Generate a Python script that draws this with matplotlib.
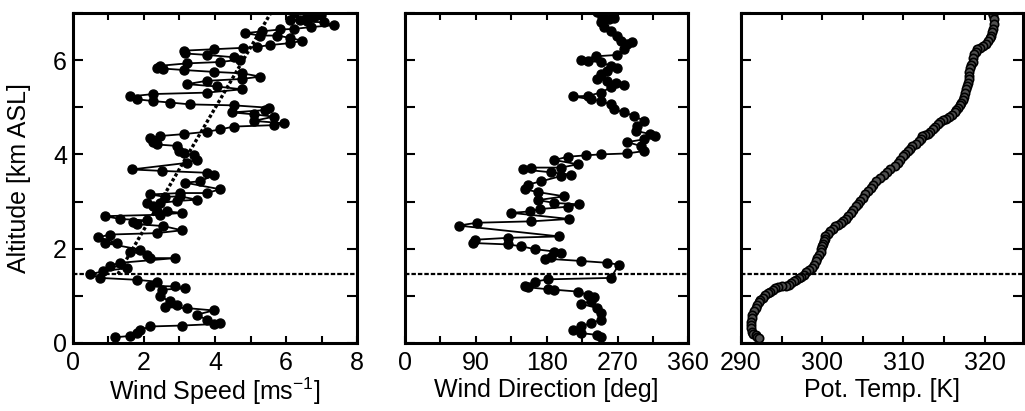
import numpy as np
import matplotlib.pyplot as plt
from matplotlib.ticker import MultipleLocator

plt.rcParams['font.family'] = ['Liberation Sans', 'DejaVu Sans']
plt.rcParams['font.size'] = 18
plt.rcParams['mathtext.fontset'] = 'custom'
plt.rcParams['mathtext.rm'] = 'Liberation Sans'

# wind speed profile
ws_alt = [7.00, 6.98, 6.96, 6.91, 6.86, 6.84, 6.82, 6.80, 6.74, 6.70,
          6.66, 6.65, 6.61, 6.57, 6.52, 6.52, 6.47, 6.41, 6.36, 6.32,
          6.28, 6.26, 6.23, 6.20, 6.14, 6.11, 6.06, 6.01, 5.96, 5.93,
          5.88, 5.84, 5.82, 5.79, 5.75, 5.72, 5.65, 5.60, 5.56, 5.49,
          5.44, 5.38, 5.31, 5.28, 5.23, 5.17, 5.13, 5.10, 5.06, 5.04,
          4.99, 4.94, 4.89, 4.85, 4.80, 4.71, 4.66, 4.62, 4.59, 4.53,
          4.48, 4.43, 4.39, 4.35, 4.26, 4.21, 4.18, 4.07, 4.02, 3.98,
          3.89, 3.82, 3.68, 3.65, 3.61, 3.56, 3.43, 3.40, 3.26, 3.18,
          3.18, 3.15, 3.10, 3.11, 3.04, 3.01, 2.97, 2.96, 2.90, 2.79,
          2.79, 2.76, 2.72, 2.69, 2.63, 2.60, 2.56, 2.52, 2.48, 2.39,
          2.33, 2.30, 2.24, 2.13, 2.12, 1.98, 1.94, 1.87, 1.80, 1.80,
          1.70, 1.64, 1.59, 1.52, 1.46, 1.38, 1.34, 1.30, 1.21, 1.20,
          1.16, 1.13, 0.99, 0.88, 0.81, 0.76, 0.74, 0.69, 0.60, 0.49,
          0.43, 0.40, 0.37, 0.35, 0.28, 0.21, 0.15, 0.12]
ws_spd = [6.22, 6.59, 6.97, 6.78, 6.40, 6.12, 6.59, 7.06, 7.34, 6.69,
          6.22, 5.84, 5.32, 4.85, 5.28, 5.75, 6.12, 6.45, 6.12, 5.56,
          5.18, 4.79, 3.96, 3.12, 3.16, 3.77, 4.53, 4.71, 4.15, 3.21,
          2.46, 2.37, 2.55, 3.12, 3.96, 4.76, 5.28, 4.76, 3.77, 3.21,
          4.06, 4.76, 3.77, 2.27, 1.62, 1.80, 2.27, 2.74, 3.31, 4.53,
          5.51, 5.42, 4.48, 5.09, 5.65, 5.09, 5.95, 5.65, 4.53, 4.15,
          3.77, 3.12, 2.46, 2.18, 2.27, 2.37, 2.93, 2.98, 3.12, 3.40,
          3.49, 3.21, 1.66, 2.51, 3.77, 3.96, 3.59, 3.16, 4.15, 3.77,
          3.02, 2.18, 2.60, 3.02, 3.49, 2.93, 2.46, 2.08, 2.27, 2.37,
          2.65, 3.07, 2.46, 0.91, 1.33, 2.08, 1.71, 1.80, 2.55, 3.07,
          2.37, 1.05, 0.72, 1.24, 0.91, 1.90, 1.62, 2.08, 2.18, 2.88,
          1.33, 1.05, 1.52, 0.86, 0.49, 0.77, 1.80, 2.37, 2.18, 2.88,
          3.16, 2.51, 2.46, 2.74, 2.93, 2.60, 3.21, 3.96, 3.49, 3.77,
          4.15, 3.96, 3.07, 2.18, 1.90, 1.80, 1.62, 1.19]

# linear fit above the boundary layer (dotted)
fit_alt = [1.46, 7.0]
fit_spd = [1.27, 5.57]

# wind direction profile
wd_alt = [7.03, 6.91, 6.87, 6.89, 6.80, 6.70, 6.62, 6.52, 6.41, 6.34,
          6.38, 6.23, 6.11, 6.08, 6.00, 5.99, 5.95, 5.88, 5.84, 5.77,
          5.70, 5.60, 5.56, 5.52, 5.47, 5.42, 5.31, 5.24, 5.23, 5.17,
          5.13, 5.06, 4.96, 4.89, 4.82, 4.71, 4.60, 4.50, 4.43, 4.39,
          4.32, 4.26, 4.18, 4.07, 4.02, 4.00, 3.98, 3.95, 3.88, 3.79,
          3.72, 3.72, 3.68, 3.62, 3.57, 3.54, 3.43, 3.36, 3.26, 3.20,
          3.11, 3.03, 2.97, 2.94, 2.89, 2.84, 2.79, 2.76, 2.63, 2.58,
          2.55, 2.49, 2.26, 2.23, 2.19, 2.12, 2.09, 2.05, 1.99, 1.94,
          1.91, 1.82, 1.79, 1.74, 1.70, 1.66, 1.38, 1.35, 1.30, 1.21,
          1.18, 1.14, 1.13, 1.09, 1.02, 0.97, 0.88, 0.83, 0.74, 0.63,
          0.49, 0.42, 0.35, 0.28, 0.21, 0.17, 0.13]
wd_dir = [243.7, 250.8, 259.2, 265.5, 248.7, 252.9, 261.3, 269.7, 273.9, 282.4,
          288.7, 278.2, 269.7, 242.4, 223.5, 231.9, 248.7, 261.3, 269.7, 257.1,
          248.7, 244.5, 257.1, 267.6, 278.2, 261.3, 248.7, 231.9, 213.0, 236.1,
          248.7, 261.3, 265.5, 278.2, 290.8, 303.4, 295.0, 292.9, 311.8, 318.1,
          303.4, 282.4, 299.2, 303.4, 282.4, 248.7, 229.8, 206.7, 189.9, 219.3,
          198.3, 160.5, 150.0, 185.7, 210.9, 198.3, 173.1, 156.3, 152.1, 168.9,
          202.5, 168.9, 189.9, 221.4, 206.7, 171.0, 158.4, 135.3, 208.8, 160.5,
          91.2, 68.1, 196.2, 131.1, 89.1, 87.0, 131.1, 147.9, 164.7, 189.9,
          198.3, 185.7, 177.3, 223.5, 257.1, 271.8, 261.3, 181.5, 164.7, 152.1,
          156.3, 181.5, 189.9, 219.3, 231.9, 240.3, 236.1, 223.5, 244.5, 248.7,
          248.7, 236.1, 223.5, 213.0, 223.5, 244.5, 248.7]

# potential temperature profile
pt_alt = [7.05, 6.96, 6.87, 6.77, 6.66, 6.59, 6.52, 6.46, 6.41, 6.35,
          6.30, 6.26, 6.23, 6.18, 6.13, 6.04, 5.95, 5.89, 5.84, 5.75,
          5.67, 5.60, 5.52, 5.45, 5.38, 5.30, 5.21, 5.15, 5.10, 5.04,
          4.99, 4.94, 4.89, 4.84, 4.80, 4.76, 4.73, 4.68, 4.64, 4.58,
          4.53, 4.48, 4.43, 4.41, 4.39, 4.33, 4.28, 4.23, 4.18, 4.12,
          4.07, 4.01, 3.96, 3.89, 3.82, 3.75, 3.68, 3.62, 3.57, 3.50,
          3.43, 3.36, 3.29, 3.22, 3.15, 3.08, 3.01, 2.95, 2.90, 2.83,
          2.76, 2.69, 2.62, 2.58, 2.55, 2.51, 2.48, 2.42, 2.37, 2.31,
          2.26, 2.21, 2.16, 2.10, 2.05, 2.00, 1.94, 1.87, 1.80, 1.73,
          1.66, 1.60, 1.55, 1.50, 1.45, 1.41, 1.38, 1.34, 1.31, 1.27,
          1.23, 1.21, 1.20, 1.18, 1.16, 1.12, 1.09, 1.05, 1.02, 0.96,
          0.91, 0.86, 0.81, 0.74, 0.67, 0.60, 0.52, 0.45, 0.38, 0.31,
          0.24, 0.20, 0.17, 0.13, 0.10]
pt_temp = [320.8, 321.0, 321.1, 321.1, 321.0, 320.9, 320.8, 320.6, 320.4, 320.1,
           319.8, 319.4, 319.1, 318.9, 318.7, 318.6, 318.5, 318.3, 318.2, 318.1,
           318.1, 318.0, 317.9, 317.8, 317.7, 317.6, 317.5, 317.3, 317.1, 316.9,
           316.7, 316.5, 316.3, 316.0, 315.6, 315.2, 314.8, 314.5, 314.2, 313.9,
           313.6, 313.3, 313.0, 312.6, 312.3, 312.1, 311.9, 311.5, 311.1, 310.8,
           310.5, 310.2, 309.9, 309.6, 309.3, 308.9, 308.4, 308.0, 307.6, 307.1,
           306.6, 306.3, 306.0, 305.6, 305.3, 305.0, 304.7, 304.4, 304.1, 303.8,
           303.5, 303.2, 302.9, 302.6, 302.3, 301.9, 301.6, 301.3, 301.0, 300.7,
           300.4, 300.3, 300.2, 300.1, 300.0, 299.9, 299.8, 299.6, 299.4, 299.2,
           299.0, 298.7, 298.4, 298.0, 297.7, 297.4, 297.1, 296.8, 296.5, 296.2,
           295.9, 295.5, 295.1, 294.6, 294.2, 293.9, 293.6, 293.3, 293.0, 292.7,
           292.4, 292.2, 292.0, 291.8, 291.6, 291.4, 291.3, 291.2, 291.2, 291.2,
           291.3, 291.5, 291.8, 292.0, 292.2]

bl_top = 1.46

fig = plt.figure(figsize=(10.25, 4.11), dpi=100)
ax1 = fig.add_axes([0.0709, 0.1655, 0.2776, 0.803])
ax2 = fig.add_axes([0.3951, 0.1655, 0.2765, 0.803])
ax3 = fig.add_axes([0.7229, 0.1655, 0.2751, 0.803])

ax1.plot(ws_spd, ws_alt, '-o', color='black', lw=1.3, ms=6.5)
ax1.plot(fit_spd, fit_alt, color='black', lw=2.4, linestyle=(0, (1.0, 0.7)))
ax2.plot(wd_dir, wd_alt, '-o', color='black', lw=1.3, ms=6.5)
ax3.plot(pt_temp, pt_alt, '-o', color='black', lw=1.0, ms=6, mfc='#505050', mew=1.2)

for ax in (ax1, ax2, ax3):
    ax.axhline(bl_top, color='black', lw=1.6, linestyle=(0, (2.0, 0.9)))
    ax.set_ylim(0, 7)
    ax.yaxis.set_major_locator(MultipleLocator(2))
    ax.yaxis.set_minor_locator(MultipleLocator(1))
    for s in ax.spines.values():
        s.set_linewidth(2.2)
    ax.tick_params(which='both', direction='in', top=True, right=True, width=1.5)
    ax.tick_params(axis='x', which='both', length=5, pad=6)
    ax.tick_params(axis='y', which='both', length=7.5, pad=4)

ax1.set_xlim(0, 8)
ax1.xaxis.set_major_locator(MultipleLocator(2))
ax1.xaxis.set_minor_locator(MultipleLocator(1))
ax1.set_xlabel(r'Wind Speed [ms$^{\mathregular{-1}}$]', labelpad=0)
ax1.set_ylabel('Altitude [km ASL]', labelpad=16)

ax2.set_xlim(0, 360)
ax2.xaxis.set_major_locator(MultipleLocator(90))
ax2.xaxis.set_minor_locator(MultipleLocator(45))
ax2.set_xlabel('Wind Direction [deg]', labelpad=2)
ax2.tick_params(axis='y', labelleft=False)

ax3.set_xlim(290, 324.7)
ax3.xaxis.set_major_locator(MultipleLocator(10))
ax3.xaxis.set_minor_locator(MultipleLocator(5))
ax3.set_xlabel('Pot. Temp. [K]', labelpad=2)
ax3.tick_params(axis='y', labelleft=False)

fig.savefig('out.png', dpi=100)
